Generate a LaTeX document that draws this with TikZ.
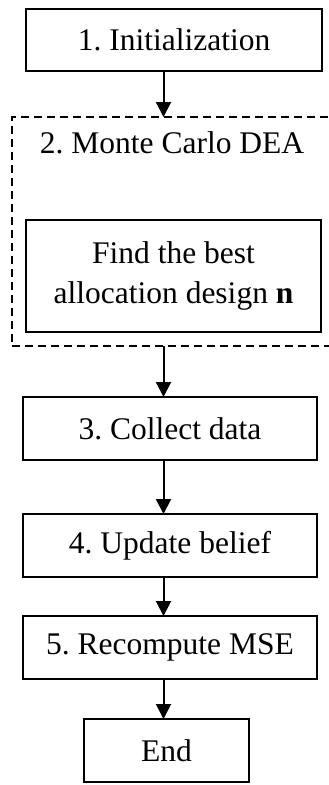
\documentclass[tikz,border=0pt]{standalone}
\usepackage{fontspec}
\setmainfont{Liberation Serif}
\usetikzlibrary{positioning,arrows.meta}
\frenchspacing

\begin{document}
\begin{tikzpicture}[
        x=1pt, y=-1pt,
        every node/.style={font=\fontsize{31.5}{40}\selectfont, inner sep=0pt, outer sep=0pt},
        box/.style={draw, line width=2pt, minimum width=294pt, minimum height=63pt},
        frame/.style={draw, line width=2pt, dash pattern=on 8pt off 5pt, minimum width=323pt, minimum height=229pt},
        arrow/.style={-{Triangle[length=15pt, width=15pt]}, line width=2pt}
    ]
        \useasboundingbox (0,0) rectangle (329,785);

        % Step 1
        \node[box, minimum width=296pt, minimum height=62pt] (init) at (174,39.5) {1. Initialization};

        % Step 2: dashed frame with inner box
        \node[frame, anchor=north west] (mcdea) at (12,117) {};
        \node[below=15pt of mcdea.north, xshift=-1.5pt] (mctitle) {2. Monte Carlo DEA};
        \node[box, minimum width=295pt, minimum height=112pt, align=center] (best) at (173.5,276)
            {Find the best\\allocation design \textbf{n}};

        % Steps 3 to 5 and End
        \node[box, below=51pt of mcdea, xshift=-3.5pt] (collect) {3. Collect data};
        \node[box, below=54pt of collect] (update) {4. Update belief};
        \node[box, below=39pt of update] (recomp) {5. Recompute MSE};
        \node[box, minimum width=165pt, below=40pt of recomp, xshift=-3.5pt] (stop) {End};

        % Arrows (all on one vertical line)
        \coordinate (axis) at (163.5,0);
        \draw[arrow] (init.south -| axis) -- (mcdea.north -| axis);
        \draw[arrow] (mcdea.south -| axis) -- (collect.north -| axis);
        \draw[arrow] (collect.south -| axis) -- (update.north -| axis);
        \draw[arrow] (update.south -| axis) -- (recomp.north -| axis);
        \draw[arrow] (recomp.south -| axis) -- (stop.north -| axis);

    \end{tikzpicture}
\end{document}
